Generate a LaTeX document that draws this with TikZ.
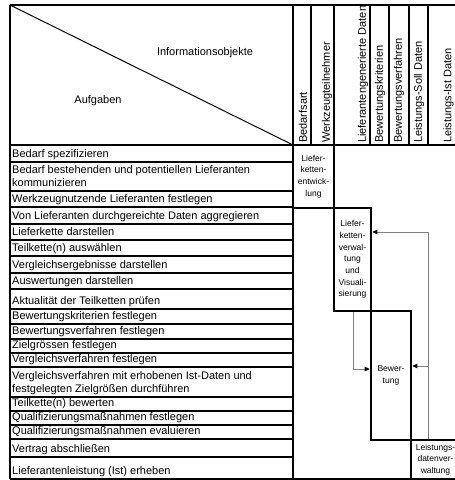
\documentclass[tikz,border=0pt]{standalone}
\usepackage{fontspec}
\setmainfont{Liberation Sans}
\usetikzlibrary{arrows.meta}
\begin{document}
\begin{tikzpicture}[x=1pt,y=-1pt,
  rowtext/.style={anchor=south west, inner sep=0pt, align=left, font=\fontsize{11}{13.5}\selectfont},
  headtext/.style={inner sep=0pt, font=\fontsize{11}{13.5}\selectfont},
  colhead/.style={rotate=90, anchor=west, inner sep=0pt, font=\fontsize{11}{13.5}\selectfont},
  rowline/.style={line width=1.3pt},
  frame/.style={line width=2.4pt},
  thinframe/.style={line width=1.4pt},
  block/.style={draw, rectangle, line width=2.6pt, inner sep=0pt, align=center,
    font=\fontsize{8.5}{11.7}\selectfont},
  flow/.style={draw=gray, line width=0.8pt, -{Triangle[length=5pt,width=4.5pt,color=black]}}
]
\clip (0,0) rectangle (455,480);
\fill[white] (0,0) rectangle (455,480);

% corner cell with the diagonal
\draw[thinframe] (10,5) -- (293,5);
\draw[line width=1pt] (10,5) -- (293,145);
\node[headtext] (info) at (205,53) {Informationsobjekte};
\node[headtext] (aufg) at (98,101) {Aufgaben};

% column headings, clipped to the heading row
\begin{scope}
  \clip (293,5) rectangle (462,145);
  \node[colhead] (c1) at (303,143) {Bedarfsart};
  \node[colhead] (c2) at (327,143) {Werkzeugteilnehmer};
  \node[colhead] (c3) at (363,143) {Lieferantengenerierte Daten};
  \node[colhead] (c4) at (380,143) {Bewertungskriterien};
  \node[colhead] (c5) at (399,143) {Bewertungsverfahren};
  \node[colhead] (c6) at (419,143) {Leistungs-Soll Daten};
  \node[colhead] (c7) at (448.5,143) {Leistungs-Ist Daten};
\end{scope}
\draw[rowline] (311,5) -- (311,145);
\foreach \cx in {334,370,389,409,428} \draw[frame] (\cx,5) -- (\cx,145);
\draw[frame] (293,5) -- (462,5);

% task rows
\node[rowtext] (r1)  at (12,162) {Bedarf spezifizieren\strut};
\node[rowtext] (r2)  at (12,191) {Bedarf bestehenden und potentiellen Lieferanten\\kommunizieren\strut};
\node[rowtext] (r3)  at (12,207) {Werkzeugnutzende Lieferanten festlegen\strut};
\node[rowtext] (r4)  at (12,224) {Von Lieferanten durchgereichte Daten aggregieren\strut};
\node[rowtext] (r5)  at (12,240) {Lieferkette darstellen\strut};
\node[rowtext] (r6)  at (12,256) {Teilkette(n) auswählen\strut};
\node[rowtext] (r7)  at (12,273) {Vergleichsergebnisse darstellen\strut};
\node[rowtext] (r8)  at (12,289) {Auswertungen darstellen\strut};
\node[rowtext] (r9)  at (12,309) {Aktualität der Teilketten prüfen\strut};
\node[rowtext] (r10) at (12,324) {Bewertungskriterien festlegen\strut};
\node[rowtext] (r11) at (12,339) {Bewertungsverfahren festlegen\strut};
\node[rowtext] (r12) at (12,353) {Zielgrössen festlegen\strut};
\node[rowtext] (r13) at (12,367) {Vergleichsverfahren festlegen\strut};
\node[rowtext] (r14) at (12,397) {Vergleichsverfahren mit erhobenen Ist-Daten und\\festgelegten Zielgrößen durchführen\strut};
\node[rowtext] (r15) at (12,411) {Teilkette(n) bewerten\strut};
\node[rowtext] (r16) at (12,425) {Qualifizierungsmaßnahmen festlegen\strut};
\node[rowtext] (r17) at (12,439) {Qualifizierungsmaßnahmen evaluieren\strut};
\node[rowtext] (r18) at (12,457) {Vertrag abschließen\strut};
\node[rowtext] (r19) at (12,479) {Lieferantenleistung (Ist) erheben\strut};

\foreach \ry in {162,191,224,240,256,273,289,309,324,339,353,367,397,411,425,439,457}
  \draw[rowline] (10,\ry) -- (293,\ry);
\draw[line width=2pt] (10,207) -- (293,207);

% outer frame of the table
\draw[frame] (10,145) -- (462,145);
\draw[frame] (10,479) -- (462,479);
\draw[thinframe] (10,5) -- (10,479);
\draw[line width=2.8pt] (293,5) -- (293,479);

% areas of the tool
\node[block, minimum width=41pt, minimum height=63pt]  (lke) at (313.5,176.5) {Liefer-\\ketten-\\entwick-\\lung};
\node[block, minimum width=37pt, minimum height=103pt] (lkv) at (352.5,259.5) {Liefer-\\ketten-\\verwal-\\tung\\und\\Visuali-\\sierung};
\node[block, minimum width=40pt, minimum height=129pt] (bew) at (391,375.5) {Bewer-\\tung};
\node[block, minimum width=49pt, minimum height=39pt]  (ldv) at (435.5,459.5) {Leistungs-\\datenver-\\waltung};

% data flows between the areas
\coordinate (bus) at (428,232);
\coordinate (tap) at (428,366);
\coordinate (down) at (353,369);
\draw[flow] (ldv.north -| bus) |- (lkv.east |- bus);
\draw[flow] (tap) -- (bew.east |- tap);
\draw[flow] (lkv.south -| down) |- (bew.west |- down);
\end{tikzpicture}
\end{document}
